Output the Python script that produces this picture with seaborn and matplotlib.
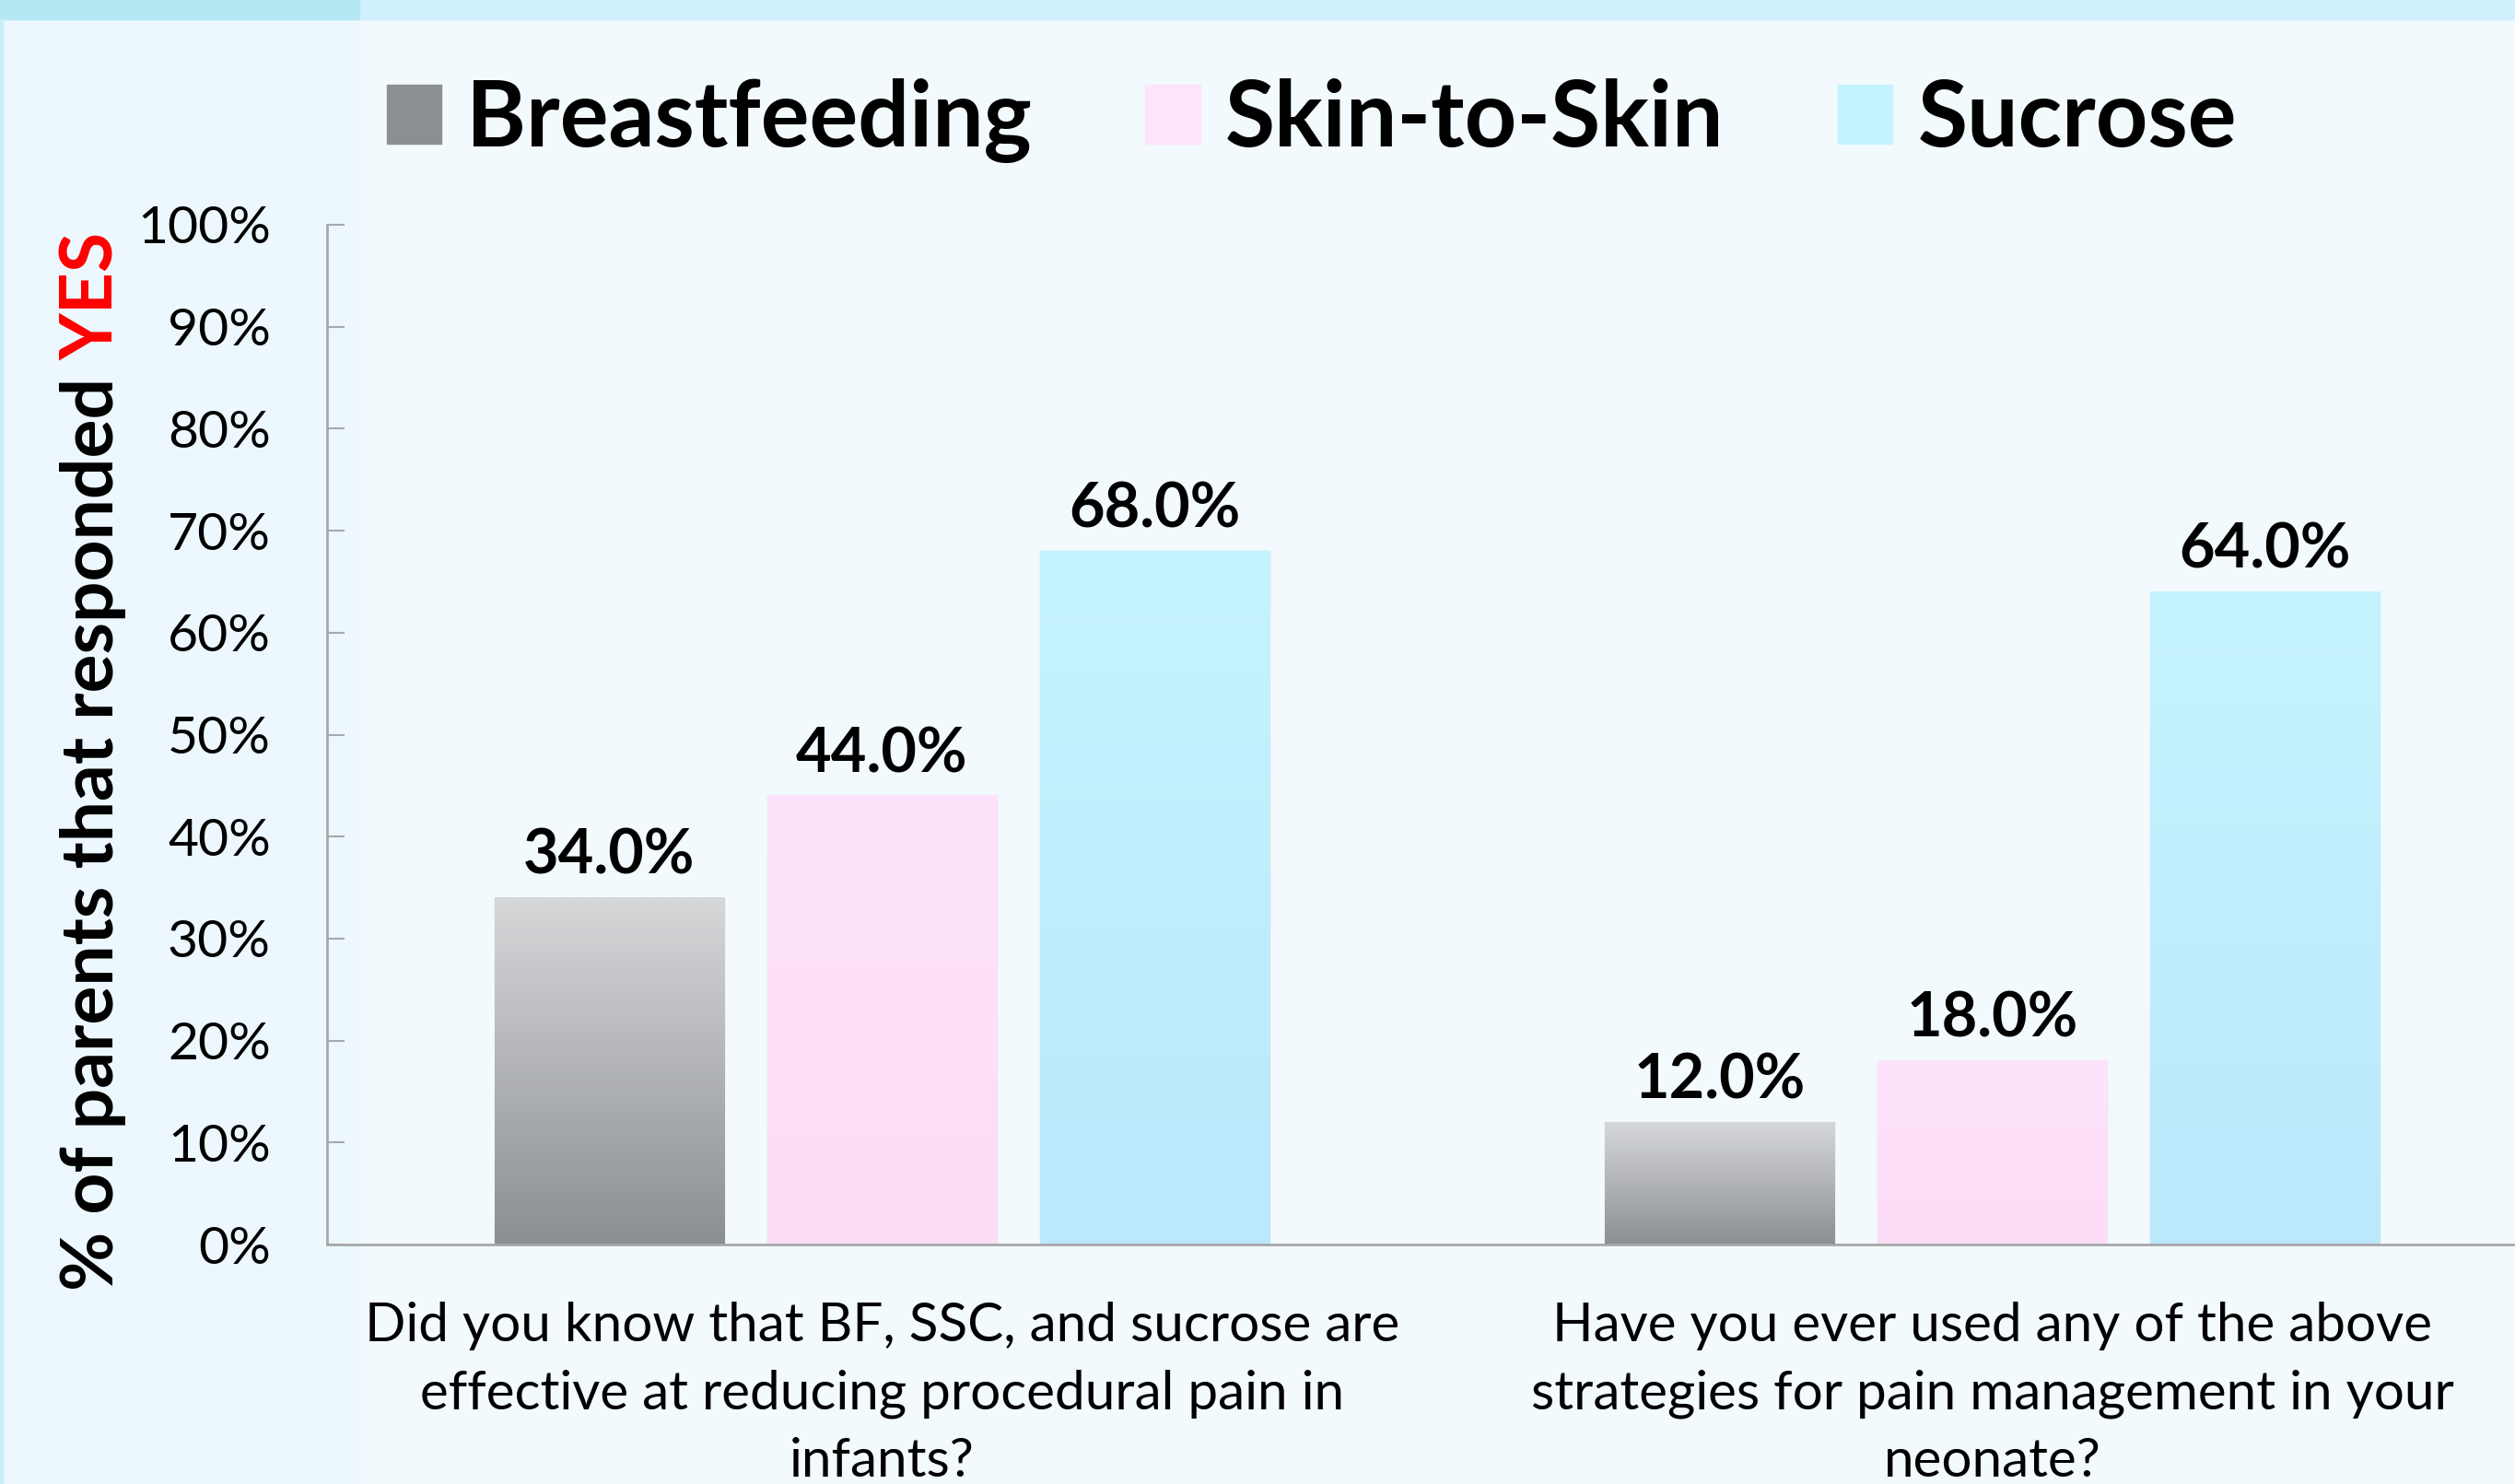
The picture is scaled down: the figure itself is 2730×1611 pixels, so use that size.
import numpy as np
import pandas as pd
import matplotlib
matplotlib.use("Agg")
import matplotlib.pyplot as plt
import seaborn as sns
from matplotlib.colors import LinearSegmentedColormap
from matplotlib.patches import Rectangle

# data
questions = [
    "Did you know that BF, SSC, and sucrose are\neffective at reducing procedural pain in\ninfants?",
    "Have you ever used any of the above\nstrategies for pain management in your\nneonate?",
]
strategies = ["Breastfeeding", "Skin-to-Skin", "Sucrose"]
breastfeeding = [34.0, 12.0]
skin_to_skin = [44.0, 18.0]
sucrose = [68.0, 64.0]
y_ticks = [0, 10, 20, 30, 40, 50, 60, 70, 80, 90, 100]

# bar colours: (top, bottom) of the gradient
bar_colors = {
    "Breastfeeding": ("#d6d7d9", "#8c8f92"),
    "Skin-to-Skin": ("#fee4fb", "#fddcf5"),
    "Sucrose": ("#c5f3fe", "#bbe8fb"),
}

rows = []
for i, q in enumerate(questions):
    for s, vals in zip(strategies, [breastfeeding, skin_to_skin, sucrose]):
        rows.append({"question": q, "strategy": s, "pct": vals[i]})
df = pd.DataFrame(rows)

sns.set_theme(style="white")
plt.rcParams["font.family"] = ["Lato", "DejaVu Sans"]
plt.rcParams["text.color"] = "black"
plt.rcParams["xtick.color"] = "black"
plt.rcParams["ytick.color"] = "black"

W, H = 2730, 1611
fig = plt.figure(figsize=(W / 100, H / 100), dpi=100)
fig.patch.set_facecolor("#f2fafe")

# background decoration
fig.patches.append(Rectangle((0, 0), 390 / W, 1, transform=fig.transFigure,
                             color="#edf8fe", zorder=-2))
fig.patches.append(Rectangle((0, 1 - 21 / H), 1, 21 / H, transform=fig.transFigure,
                             color="#d0f0fd", zorder=-1))
fig.patches.append(Rectangle((0, 1 - 21 / H), 390 / W, 21 / H, transform=fig.transFigure,
                             color="#b6e8f4", zorder=-1))
fig.patches.append(Rectangle((0, 0), 3 / W, 1 - 21 / H, transform=fig.transFigure,
                             color="#c8eef8", zorder=-1))

ax = fig.add_axes([355 / W, 1 - 1351 / H, (2765 - 355) / W, (1351 - 244) / H])
ax.set_facecolor("none")

palette = {s: bar_colors[s][1] for s in strategies}
sns.barplot(data=df, x="question", y="pct", hue="strategy", hue_order=strategies,
            palette=palette, width=0.737, gap=0.157, ax=ax, legend=False,
            saturation=1, edgecolor="#d3d8dc", linewidth=1)

# gradient fill over each bar
grad = np.linspace(0, 1, 256).reshape(-1, 1)
for cont, s in zip(ax.containers, strategies):
    top, bottom = bar_colors[s]
    cmap = LinearSegmentedColormap.from_list(s, [bottom, top])
    for rect in cont:
        x, w, h = rect.get_x(), rect.get_width(), rect.get_height()
        ax.imshow(grad, extent=[x, x + w, 0, h], origin="lower", aspect="auto",
                  cmap=cmap, zorder=rect.get_zorder() + 0.1)
    ax.bar_label(cont, fmt="%.1f%%", padding=10, fontsize=48, fontweight="bold",
                 color="black")

ax.set_xlim(-0.5, 1.5)
ax.set_ylim(0, 100)
ax.set_yticks(y_ticks)
ax.set_yticklabels([f"{t}%" for t in y_ticks])
ax.set_xlabel("")
ax.set_ylabel("")
for side in ["top", "right"]:
    ax.spines[side].set_visible(False)
for side in ["left", "bottom"]:
    ax.spines[side].set_color("#a8a8a8")
    ax.spines[side].set_linewidth(2)
ax.tick_params(axis="y", direction="in", length=14, width=1.5, color="#a8a8a8",
               labelcolor="black", labelsize=41, pad=44, left=True)
ax.tick_params(axis="x", length=0, labelsize=42, pad=45, labelcolor="black")
for lab in ax.get_xticklabels():
    lab.set_linespacing(1.47)

# legend
handles = [Rectangle((0, 0), 1, 1, color=bar_colors[s][1]) for s in strategies]
handles[1].set_color(bar_colors["Skin-to-Skin"][0])
handles[2].set_color(bar_colors["Sucrose"][0])
leg = fig.legend(handles, strategies, loc="center", bbox_to_anchor=(1424 / W, 1 - 131 / H),
                 ncol=3, frameon=False, prop={"size": 71, "weight": "bold"},
                 handlelength=0.6, handleheight=0.62, handletextpad=0.28,
                 columnspacing=1.25, labelcolor="black")

fig.canvas.draw()
renderer = fig.canvas.get_renderer()

# gradient legend swatch for breastfeeding
bb = leg.get_patches()[0].get_window_extent(renderer)
lax = fig.add_axes([bb.x0 / W, bb.y0 / H, bb.width / W, bb.height / H])
lax.imshow(grad, origin="lower", aspect="auto",
           cmap=LinearSegmentedColormap.from_list("bf", [bar_colors["Breastfeeding"][1],
                                                         bar_colors["Breastfeeding"][0]]))
lax.axis("off")

# y label with red YES
t1 = fig.text(101 / W, 1 - 1401 / H, "% of parents that responded ", rotation=90,
              ha="center", va="bottom", fontsize=56.5, fontweight="bold", color="black")
fig.canvas.draw()
b1 = t1.get_window_extent(renderer)
fig.text(101 / W, b1.y1 / H, "YES", rotation=90, ha="center", va="bottom",
         fontsize=56.5, fontweight="bold", color="#ff0000")

fig.savefig("out.png", dpi=100, facecolor=fig.get_facecolor())
